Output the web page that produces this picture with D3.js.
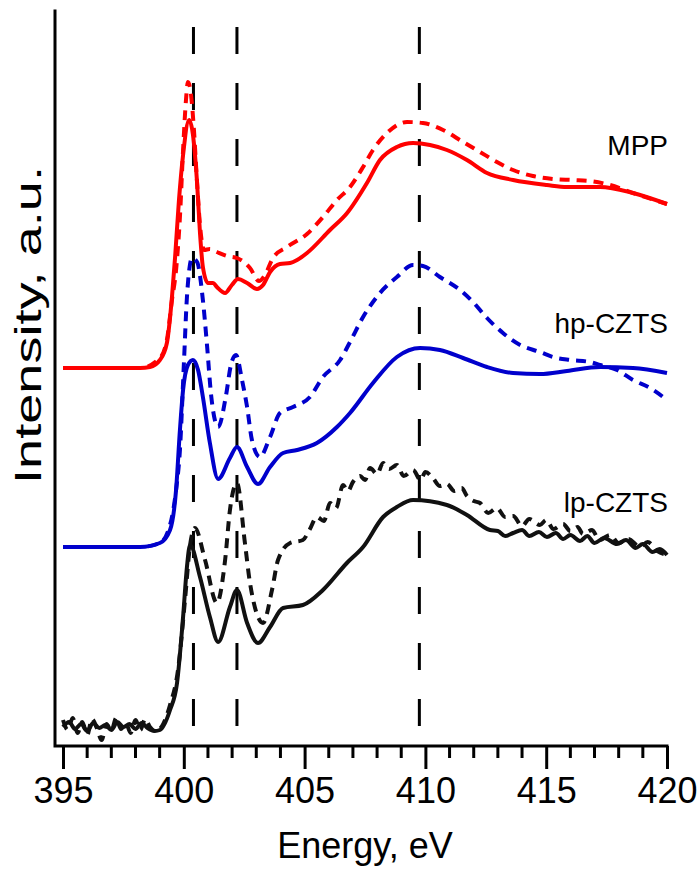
<!DOCTYPE html>
<html>
<head>
<meta charset="utf-8">
<title>XAS spectra</title>
<script src="https://d3js.org/d3.v7.min.js"></script>
<style>
  body { margin: 0; background: #fff; font-family: "Liberation Sans", Arial, sans-serif; }
  svg { display: block; }
</style>
</head>
<body>
<div id="chart"></div>
<script>
// ---- data (energy eV, intensity a.u.) ----
const xTicks = [395, 400, 405, 410, 415, 420];
const peakLines = [400.4, 402.2, 409.75];

const mppSolid = [
  [395.0, 3.78], [398.19, 3.78], [398.6, 3.79], [399.01, 3.86], [399.3, 4.03], [399.51, 4.49],
  [399.64, 4.89], [399.8, 5.46], [399.97, 5.91], [400.22, 6.26], [400.38, 6.11], [400.55, 5.63],
  [400.67, 5.13], [400.79, 4.79], [401.0, 4.63], [401.21, 4.63], [401.37, 4.59], [401.71, 4.53],
  [401.99, 4.61], [402.24, 4.67], [402.62, 4.63], [403.03, 4.57], [403.28, 4.61], [403.57, 4.74],
  [403.98, 4.82], [404.4, 4.83], [404.69, 4.86], [405.1, 4.93], [406.05, 5.16], [406.76, 5.33],
  [407.58, 5.63], [408.12, 5.86], [408.82, 5.99], [409.49, 6.03], [410.19, 6.01], [410.89, 5.96],
  [411.72, 5.86], [412.55, 5.73], [413.63, 5.66], [415.03, 5.61], [415.86, 5.59], [417.23, 5.59],
  [418.59, 5.53], [420.0, 5.42]
];
const mppDashed = [
  [395.0, 3.78], [398.19, 3.78], [399.01, 3.88], [399.3, 4.06], [399.51, 4.46], [399.68, 4.76],
  [399.84, 5.29], [399.97, 5.96], [400.09, 6.46], [400.17, 6.64], [400.3, 6.51], [400.42, 6.16],
  [400.55, 5.63], [400.67, 5.21], [400.84, 4.96], [401.08, 4.97], [401.37, 4.94], [401.79, 4.90],
  [402.2, 4.88], [402.74, 4.78], [403.11, 4.65], [403.36, 4.71], [403.69, 4.88], [404.27, 4.99],
  [405.1, 5.12], [405.76, 5.29], [406.34, 5.46], [406.88, 5.59], [407.42, 5.79], [407.83, 5.96],
  [408.41, 6.13], [409.24, 6.24], [409.9, 6.23], [410.73, 6.16], [411.56, 6.04], [412.26, 5.94],
  [412.96, 5.84], [413.63, 5.76], [414.45, 5.70], [415.28, 5.67], [416.11, 5.66], [416.81, 5.65],
  [417.64, 5.61], [418.59, 5.53], [420.0, 5.42]
];
const hpSolid = [
  [395.0, 1.99], [398.19, 1.99], [399.01, 2.03], [399.43, 2.16], [399.68, 2.56], [399.84, 3.16],
  [399.97, 3.56], [400.17, 3.81], [400.38, 3.86], [400.59, 3.76], [400.79, 3.49], [401.08, 3.03],
  [401.42, 2.67], [401.91, 2.88], [402.2, 2.99], [402.62, 2.79], [403.07, 2.62], [403.57, 2.79],
  [404.11, 2.93], [404.69, 2.96], [405.51, 3.03], [406.34, 3.19], [406.88, 3.33], [407.83, 3.63],
  [408.82, 3.89], [409.78, 3.98], [410.6, 3.96], [411.56, 3.88], [412.55, 3.79], [413.63, 3.73],
  [414.74, 3.72], [415.86, 3.75], [417.23, 3.79], [418.59, 3.78], [420.0, 3.73]
];
const hpDashed = [
  [395.0, 1.99], [398.19, 1.99], [399.01, 2.03], [399.43, 2.21], [399.68, 2.56], [399.84, 2.96],
  [400.01, 3.86], [400.13, 4.49], [400.34, 4.88], [400.55, 4.84], [400.79, 4.46], [400.96, 4.01],
  [401.13, 3.51], [401.42, 3.19], [401.75, 3.51], [401.95, 3.81], [402.16, 3.91], [402.41, 3.66],
  [402.62, 3.39], [402.82, 3.06], [403.15, 2.89], [403.57, 3.09], [403.98, 3.33], [404.52, 3.39],
  [405.22, 3.49], [405.76, 3.69], [406.47, 3.86], [406.88, 4.04], [407.42, 4.29], [408.12, 4.53],
  [408.82, 4.69], [409.49, 4.81], [409.9, 4.80], [410.6, 4.69], [411.43, 4.56], [411.97, 4.44],
  [412.55, 4.28], [413.21, 4.13], [413.92, 4.01], [414.74, 3.94], [415.28, 3.89], [415.99, 3.86],
  [416.81, 3.84], [417.23, 3.81], [417.93, 3.76], [418.59, 3.66], [419.3, 3.58], [420.0, 3.46]
];
const lpSolid = [
  [395.0, 0.19], [395.25, 0.24], [395.5, 0.17], [395.75, 0.22], [396.0, 0.15], [396.25, 0.23],
  [396.5, 0.18], [396.75, 0.21], [397.0, 0.16], [397.25, 0.24], [397.5, 0.19], [397.75, 0.22],
  [398.0, 0.17], [398.25, 0.23], [398.5, 0.18], [398.8, 0.15], [399.01, 0.16], [399.43, 0.36],
  [399.72, 0.63], [399.97, 1.29], [400.13, 1.79], [400.26, 2.01], [400.67, 1.69], [401.08, 1.29],
  [401.42, 1.04], [401.91, 1.39], [402.2, 1.56], [402.62, 1.23], [403.07, 1.03], [403.57, 1.19],
  [404.11, 1.38], [404.93, 1.41], [405.76, 1.56], [406.75, 1.83], [407.42, 1.99], [408.25, 2.29],
  [408.82, 2.39], [409.49, 2.46], [410.89, 2.41], [411.72, 2.31], [412.67, 2.16], [413.0, 2.15],
  [413.3, 2.10], [413.63, 2.13], [414.0, 2.16], [414.3, 2.10], [414.7, 2.14], [415.03, 2.09],
  [415.4, 2.13], [415.7, 2.07], [416.0, 2.11], [416.4, 2.05], [416.7, 2.10], [417.0, 2.03],
  [417.4, 2.08], [417.93, 2.02], [418.3, 2.06], [418.7, 1.98], [419.0, 2.02], [419.4, 1.94],
  [419.7, 1.97], [420.0, 1.91]
];
const lpDashed = [
  [395.0, 0.26], [395.2, 0.16], [395.4, 0.28], [395.6, 0.13], [395.8, 0.24], [396.0, 0.11],
  [396.2, 0.27], [396.4, 0.18], [396.6, 0.06], [396.8, 0.22], [397.0, 0.15], [397.2, 0.28],
  [397.4, 0.17], [397.6, 0.23], [397.8, 0.13], [398.0, 0.26], [398.2, 0.16], [398.4, 0.27],
  [398.6, 0.19], [398.8, 0.15], [399.0, 0.17], [399.43, 0.41], [399.76, 0.76], [400.05, 1.46],
  [400.26, 2.01], [400.46, 2.18], [400.88, 1.86], [401.37, 1.43], [401.71, 1.86], [401.91, 2.36],
  [402.2, 2.63], [402.53, 2.03], [402.74, 1.63], [403.28, 1.23], [403.65, 1.56], [403.9, 1.86],
  [404.4, 2.03], [404.93, 2.06], [405.2, 2.16], [405.51, 2.29], [405.8, 2.25], [406.05, 2.43],
  [406.3, 2.38], [406.59, 2.61], [406.8, 2.55], [407.0, 2.64], [407.3, 2.70], [407.5, 2.66],
  [407.71, 2.78], [408.0, 2.72], [408.25, 2.83], [408.5, 2.77], [408.82, 2.81], [409.1, 2.70],
  [409.49, 2.76], [409.8, 2.66], [410.0, 2.74], [410.31, 2.68], [410.6, 2.60], [410.89, 2.62],
  [411.2, 2.55], [411.5, 2.58], [411.72, 2.50], [412.0, 2.45], [412.26, 2.43], [412.6, 2.33],
  [412.96, 2.38], [413.3, 2.29], [413.63, 2.30], [414.0, 2.20], [414.3, 2.27], [414.74, 2.21],
  [415.0, 2.26], [415.3, 2.17], [415.7, 2.22], [416.0, 2.15], [416.3, 2.19], [416.52, 2.12],
  [416.9, 2.16], [417.2, 2.06], [417.64, 2.11], [418.0, 2.03], [418.4, 2.07], [418.88, 1.99],
  [419.2, 2.04], [419.6, 1.95], [420.0, 1.91]
];

const series = [
  { data: lpSolid, color: "#111", dash: null },
  { data: lpDashed, color: "#111", dash: "10,7" },
  { data: hpSolid, color: "#0000cc", dash: null },
  { data: hpDashed, color: "#0000cc", dash: "10,7" },
  { data: mppSolid, color: "#ff0000", dash: null },
  { data: mppDashed, color: "#ff0000", dash: "10,7" }
];
const labels = [
  { text: "MPP", y: 5.91 },
  { text: "hp-CZTS", y: 4.13 },
  { text: "lp-CZTS", y: 2.34 }
];

// ---- layout ----
const width = 700, height = 869;
const x = d3.scaleLinear().domain([395, 420]).range([63, 667]);
const y = d3.scaleLinear().domain([0, 7.35]).range([746, 11]);

const svg = d3.select("#chart").append("svg")
  .attr("width", width)
  .attr("height", height);

// vertical dashed reference lines
svg.selectAll(".ref")
  .data(peakLines)
  .enter().append("line")
  .attr("class", "ref")
  .attr("x1", d => x(d)).attr("x2", d => x(d))
  .attr("y1", 27).attr("y2", 727)
  .attr("stroke", "#000")
  .attr("stroke-width", 3)
  .attr("stroke-dasharray", "27,29");

// spectra
const line = d3.line()
  .x(d => x(d[0]))
  .y(d => y(d[1]))
  .curve(d3.curveMonotoneX);

svg.selectAll(".spec")
  .data(series)
  .enter().append("path")
  .attr("class", "spec")
  .attr("d", d => line(d.data))
  .attr("fill", "none")
  .attr("stroke", d => d.color)
  .attr("stroke-width", 4)
  .attr("stroke-linejoin", "round")
  .attr("stroke-dasharray", d => d.dash);

// axes
const xAxis = d3.axisBottom(x)
  .tickValues(xTicks)
  .tickSize(23)
  .tickPadding(8)
  .tickFormat(d3.format("d"));
const gx = svg.append("g")
  .attr("transform", "translate(0,746)")
  .call(xAxis);
gx.select(".domain").remove();
gx.selectAll(".tick line").attr("stroke", "#000").attr("stroke-width", 3);
gx.selectAll(".tick text")
  .attr("fill", "#000")
  .style("font-family", "'Liberation Sans', Arial, sans-serif")
  .style("font-size", "36px");

// minor ticks
svg.selectAll(".minor")
  .data(d3.range(395, 421).filter(v => v % 5 !== 0))
  .enter().append("line")
  .attr("class", "minor")
  .attr("x1", d => x(d)).attr("x2", d => x(d))
  .attr("y1", 746).attr("y2", 758)
  .attr("stroke", "#000")
  .attr("stroke-width", 3);

// axis frame (left + bottom)
svg.append("path")
  .attr("d", `M55,11 L55,746 L${x(420)},746`)
  .attr("fill", "none")
  .attr("stroke", "#000")
  .attr("stroke-width", 3)
  .attr("stroke-linecap", "square");

// axis titles
svg.append("text")
  .attr("x", 365).attr("y", 858)
  .attr("text-anchor", "middle")
  .style("font-size", "36px")
  .text("Energy, eV");

svg.append("text")
  .attr("transform", "translate(41,325) rotate(-90)")
  .attr("text-anchor", "middle")
  .attr("textLength", 318)
  .attr("lengthAdjust", "spacingAndGlyphs")
  .style("font-size", "37px")
  .text("Intensity, a.u.");

// series labels
svg.selectAll(".lbl")
  .data(labels)
  .enter().append("text")
  .attr("class", "lbl")
  .attr("x", 668)
  .attr("y", d => y(d.y))
  .attr("text-anchor", "end")
  .style("font-size", "28px")
  .text(d => d.text);
</script>
</body>
</html>
